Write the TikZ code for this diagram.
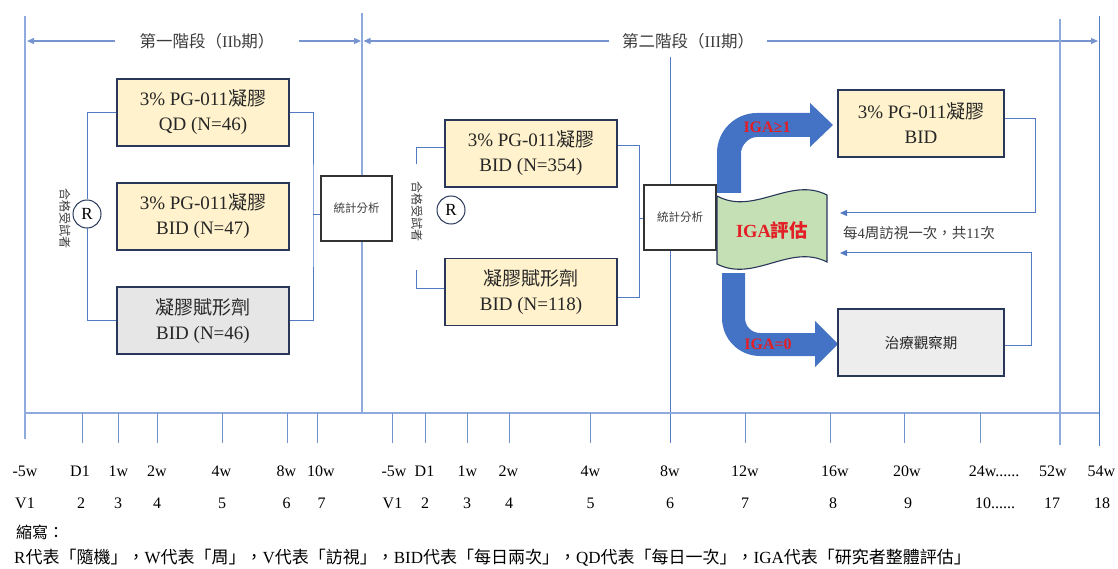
\documentclass[tikz,border=0pt]{standalone}
\usepackage{fontspec}
\setmainfont{Liberation Serif}
\newfontfamily\cjkfont{Noto Sans CJK TC}
\newcommand\cj[1]{{\cjkfont #1}}
\newcommand\sixdots{......}
\usetikzlibrary{arrows.meta}
\definecolor{gridblue}{RGB}{143,170,220}
\definecolor{hdrblue}{RGB}{118,148,208}
\definecolor{tickblue}{RGB}{112,145,208}
\definecolor{lineblue}{RGB}{82,122,196}
\definecolor{boxedge}{RGB}{40,55,90}
\definecolor{yfill}{RGB}{255,242,204}
\definecolor{gfill}{RGB}{231,230,230}
\definecolor{gtwofill}{RGB}{237,237,237}
\definecolor{greenfill}{RGB}{197,224,180}
\definecolor{bigblue}{RGB}{68,114,196}
\definecolor{igared}{RGB}{228,30,38}
\definecolor{txtgray}{RGB}{60,60,60}
\tikzset{
  armbox/.style={draw=boxedge, line width=1.1pt, fill=yfill, minimum width=172pt, minimum height=67pt,
    align=center, font=\fontsize{19}{25}\selectfont, inner sep=0pt, text=black!85},
  statbox/.style={draw=black!80, line width=1.1pt, fill=white, minimum width=71pt, minimum height=65pt,
    font=\cjkfont\fontsize{11.5}{14}\selectfont, text=txtgray, inner sep=0pt},
  rcirc/.style={circle, draw=boxedge, line width=1pt, minimum size=28pt, inner sep=0pt,
    font=\fontsize{17}{17}\selectfont},
  conn/.style={draw=lineblue, line width=1pt},
  gridline/.style={draw=gridblue, line width=1.3pt},
  tickline/.style={draw=tickblue, line width=1pt},
  hdr/.style={font=\fontsize{16.5}{18}\selectfont, text=txtgray, inner sep=0pt, minimum height=16pt},
  hdrarrow/.style={draw=hdrblue, line width=1.2pt, -{Triangle[length=7pt,width=6pt]}},
  fbarrow/.style={draw=lineblue, line width=1pt, -{Triangle[length=7pt,width=6pt]}},
  lbl/.style={font=\fontsize{16}{18}\selectfont, inner sep=0pt},
  vtext/.style={rotate=-90, font=\cjkfont\fontsize{12}{12}\selectfont, text=txtgray, inner sep=0pt},
  bigarrow/.style={fill=bigblue, draw=none},
  redlbl/.style={font=\bfseries\fontsize{16}{18}\selectfont, text=igared, inner sep=0pt},
}
\begin{document}
\begin{tikzpicture}[x=1pt,y=-1pt]
\useasboundingbox (0,0) rectangle (1118,569);

% ---------- header ----------
\node[hdr, minimum width=184pt] (h1) at (207,41) {\cj{第一階段（}IIb\cj{期）}};
\node[hdr, minimum width=158pt] (h2) at (688,41) {\cj{第二階段（}III\cj{期）}};
\coordinate (h1l) at (27,41);
\coordinate (h1r) at (361,41);
\coordinate (h2l) at (363.5,41);
\coordinate (h2r) at (1098,41);
\draw[hdrarrow] (h1.west) -- (h1l);
\draw[hdrarrow] (h1.east) -- (h1r);
\draw[hdrarrow] (h2.west) -- (h2l);
\draw[hdrarrow] (h2.east) -- (h2r);

% ---------- phase 1 ----------
\node[armbox] (A) at (203,112.5) {3\% PG-011\cj{凝膠}\\QD (N=46)};
\node[armbox] (B) at (203,216.5) {3\% PG-011\cj{凝膠}\\BID (N=47)};
\node[armbox, fill=gfill] (C) at (203,320.5) {\cj{凝膠賦形劑}\\BID (N=46)};
\node[rcirc] (R1) at (87,214) {R};
\node[vtext] (q1) at (65,219) {合格受試者};
\node[statbox] (S1) at (356.5,208.5) {統計分析};
\draw[conn] (A.west) -| (R1.north);
\draw[conn] (R1.south) |- (C.west);
\coordinate (j1) at (313,215);
\draw[conn] (A.east) -| (j1) |- (C.east);
\draw[conn] (j1) -- (j1 -| S1.west);

% ---------- phase 2 ----------
\node[armbox] (D) at (531,153.5) {3\% PG-011\cj{凝膠}\\BID (N=354)};
\node[armbox] (E) at (531,292) {\cj{凝膠賦形劑}\\BID (N=118)};
\node[rcirc] (R2) at (451,210) {R};
\node[vtext] (q2) at (417,212) {合格受試者};
\node[statbox, minimum width=72pt] (S2) at (680,217.5) {統計分析};
\coordinate (l2a) at (416,164);
\coordinate (l2ay) at (416,148);
\coordinate (l2b) at (416,270);
\coordinate (l2by) at (416,288);
\draw[conn] (l2a) |- (D.west |- l2ay);
\draw[conn] (l2b) |- (E.west |- l2by);
\coordinate (j2) at (639,219);
\coordinate (j2t) at (639,146);
\coordinate (j2b) at (639,297);
\draw[conn] (D.east |- j2t) -- (j2t) -- (j2b) -- (E.east |- j2b);
\draw[conn] (j2) -- (j2 -| S2.west);

% ---------- IGA evaluation ----------
\draw[draw=boxedge, line width=1.1pt, fill=greenfill]
  (717,196) .. controls (754,216) and (790,176) .. (827,195)
  -- (827,262) .. controls (790,243) and (754,283) .. (717,264) -- cycle;
\node[font=\bfseries\fontsize{18.5}{20}\selectfont, text=igared, inner sep=0pt] (iga) at (772,230) {IGA\cj{評估}};

% big bent arrows
\path[bigarrow] (717,193) -- (717,153) .. controls (717,130.9) and (734.9,113) .. (757,113)
  -- (810,113) -- (810,103) -- (833,125) -- (810,147) -- (810,137) -- (757,137)
  .. controls (748.2,137) and (741,145.8) .. (741,153) -- (741,193) -- cycle;
\path[bigarrow] (722,273) -- (722,318) .. controls (722,339) and (739,356) .. (760,356)
  -- (815,356) -- (815,367) -- (838,344) -- (815,321) -- (815,333) -- (760,333)
  .. controls (751.7,333) and (745,326.3) .. (745,318) -- (745,273) -- cycle;
\node[redlbl] (ge1) at (767,127) {IGA≥1};
\node[redlbl] (eq0) at (768,344) {IGA=0};

\node[armbox, minimum width=166pt] (F) at (921,123.5) {3\% PG-011\cj{凝膠}\\BID};
\node[armbox, minimum width=166pt, fill=gtwofill, font=\cjkfont\fontsize{14.5}{16}\selectfont] (G) at (921,342.5) {治療觀察期};

\coordinate (fy1) at (1035,119);
\coordinate (fb1) at (1035,213);
\coordinate (fe1) at (840,213);
\draw[fbarrow] (F.east |- fy1) -- (fy1) -- (fb1) -- (fe1);
\coordinate (fy2) at (1031,345);
\coordinate (fb2) at (1031,253);
\coordinate (fe2) at (840,253);
\draw[fbarrow] (G.east |- fy2) -- (fy2) -- (fb2) -- (fe2);
\node[font=\fontsize{14.5}{16}\selectfont, anchor=west, inner sep=0pt, text=txtgray] (visit) at (843,233)
  {\cj{每}4\cj{周訪視一次，共}11\cj{次}};

% ---------- vertical lines & time axis ----------
\draw[gridline] (25,16) -- (25,439);
\coordinate (m1) at (362,13);
\draw[gridline] (m1) -- (S1.north -| m1);
\draw[gridline] (S1.south -| m1) -- (362,413);
\coordinate (m2) at (670,57);
\draw[conn] (m2) -- (S2.north -| m2);
\draw[conn] (S2.south -| m2) -- (670,443);
\draw[gridline] (1060,19) -- (1060,445);
\draw[conn] (1099,16) -- (1099,446);
\draw[gridline] (25,413) -- (1099,413);
\foreach \x in {82,118.5,157,222,287,317,392,425,467.5,509,590.5,745,830,904,980}
  \draw[tickline] (\x,413) -- (\x,443);

\foreach \x/\l [count=\i] in {25/-5w, 80/D1, 118.5/1w, 157/2w, 221.5/4w, 286.5/8w, 321/10w,
   394/-5w, 424.5/D1, 467.5/1w, 508.5/2w, 590.5/4w, 670/8w, 745/12w, 835/16w, 907/20w,
   994/24w\sixdots, 1053/52w, 1101.5/54w}
  \node[lbl] (w\i) at (\x,471) {\l};
\foreach \x/\l [count=\i] in {25/V1, 81/2, 118/3, 157/4, 222/5, 286.5/6, 321.5/7,
   392.5/V1, 425/2, 467/3, 509/4, 590.5/5, 670/6, 745/7, 833/8, 908/9,
   995/10\sixdots, 1052/17, 1102/18}
  \node[lbl] (v\i) at (\x,503) {\l};

% ---------- footnote ----------
\node[lbl, anchor=west] (fn1) at (16,532) {\cj{縮寫：}};
\node[lbl, anchor=west, font=\fontsize{17}{18}\selectfont] (fn2) at (14,558)
  {R\cj{代表「隨機」，}W\cj{代表「周」，}V\cj{代表「訪視」，}BID\cj{代表「每日兩次」，}QD\cj{代表「每日一次」，}IGA\cj{代表「研究者整體評估」}};
\end{tikzpicture}
\end{document}
